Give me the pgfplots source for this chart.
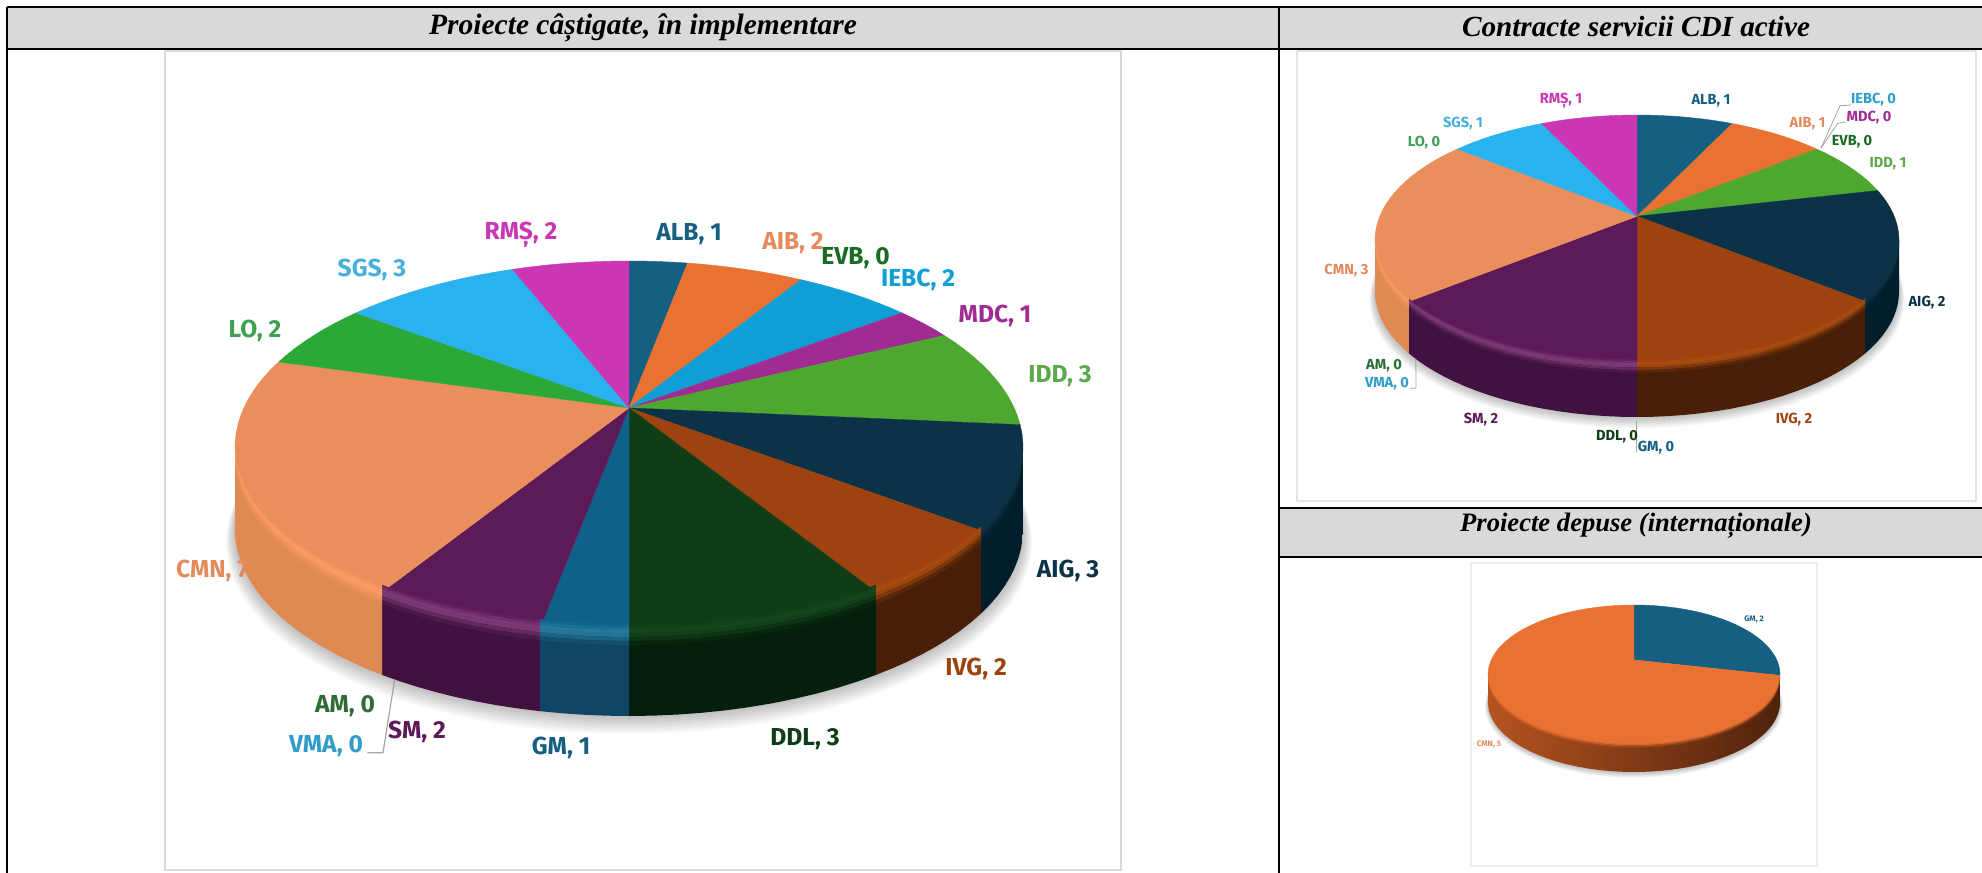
\documentclass[border=0pt]{standalone}
\usepackage{pgfplots}
\pgfplotsset{compat=1.18}
\usepackage{fontspec}
\setmainfont{Liberation Serif}
\newfontfamily\lab{Fira Sans}
\definecolor{cALB}{HTML}{156082}
\definecolor{cAIB}{HTML}{E97132}
\definecolor{cEVB}{HTML}{196B24}
\definecolor{cIEBC}{HTML}{0F9ED5}
\definecolor{cMDC}{HTML}{A02B93}
\definecolor{cIDD}{HTML}{4EA72E}
\definecolor{cAIG}{HTML}{0B3247}
\definecolor{cIVG}{HTML}{9E420F}
\definecolor{cDDL}{HTML}{0F3D16}
\definecolor{cGM}{HTML}{10618A}
\definecolor{cSM}{HTML}{5D1A59}
\definecolor{cAM}{HTML}{2E6B35}
\definecolor{cVMA}{HTML}{2E9EC8}
\definecolor{cCMN}{HTML}{EA8F5C}
\definecolor{cLO}{HTML}{2AA838}
\definecolor{cSGS}{HTML}{2AB2EE}
\definecolor{cRMS}{HTML}{CA36B4}
% walls and rim highlights
\definecolor{wAIG}{HTML}{021E2D}\definecolor{hAIG}{HTML}{0F3548}
\definecolor{wIVG}{HTML}{4A1F08}\definecolor{hIVG}{HTML}{AE4E12}
\definecolor{wDDL}{HTML}{041F0B}\definecolor{hDDL}{HTML}{15481C}
\definecolor{wGM}{HTML}{0F4663}\definecolor{hGM}{HTML}{2A7FA0}
\definecolor{wSM}{HTML}{41123F}\definecolor{hSM}{HTML}{84407F}
\definecolor{wCMN}{HTML}{DF8953}\definecolor{hCMN}{HTML}{FF9E62}
\definecolor{wCl}{HTML}{B5531F}\definecolor{wCr}{HTML}{4F220C}
\definecolor{lCMN}{HTML}{E58A5A}
\definecolor{lSGS}{HTML}{45B0DC}
\definecolor{lLO}{HTML}{3FA052}
\definecolor{lIDD}{HTML}{5CA84A}
\definecolor{gridg}{HTML}{D9D9D9}

\newcommand\setpie[7]{%
  \gdef\cx{#1}\gdef\cy{#2}\gdef\rx{#3}\gdef\ry{#4}\gdef\ee{#5}\gdef\dep{#6}\gdef\tot{#7}%
  \gdef\rxx{#3}\gdef\ryy{#4}%
  \pgfmathsetmacro\tmpa{#2-#4*#5}\xdef\apy{\tmpa}%
  \pgfmathsetmacro\tmpa{acos(-#5)}\xdef\thf{\tmpa}%
  \pgfmathsetmacro\tmpa{#6/83}\xdef\ssc{\tmpa}%
}
\newcommand\addarc[4]{%
  \pgfmathtruncatemacro\nn{max(1,ceil(abs(#2-#1)/3))}%
  \foreach \ii in {0,...,\nn}{%
    \pgfmathsetmacro\ang{#1+(#2-#1)/\nn*\ii}%
    \pgfmathsetmacro\dn{1+\ee*cos(\ang)}%
    \pgfmathsetmacro\vv{(cos(\ang)+\ee)/\dn}%
    \pgfmathsetmacro\px{\cx+\rxx*sqrt(1-\ee*\ee)*sin(\ang)/\dn}%
    \pgfmathsetmacro\py{\cy-\ryy*\vv+(#3)+(#4)*abs(\vv)}%
    \xdef\pts{\pts (\px,\py)}%
  }%
}
\newcommand\emitplot[1]{\edef\tmp{\noexpand\addplot[#1] coordinates {\pts};}\tmp}
\newcommand\drawpie[1]{%
  % soft shadow
  \foreach \oo in {18,16,14,12,10,8,6,4,2}{%
    \pgfmathsetmacro\tmpb{\rx+0.5*\oo*\ssc}\xdef\rxx{\tmpb}%
    \pgfmathsetmacro\tmpb{\ry+0.3*\oo*\ssc}\xdef\ryy{\tmpb}%
    \gdef\pts{}%
    \pgfmathsetmacro\tmpb{\dep+0.7*\oo*\ssc}%
    \addarc{0}{360}{\tmpb}{0}%
    \emitplot{draw=none,fill=black,fill opacity=0.026}%
  }%
  \xdef\rxx{\rx}\xdef\ryy{\ry}%
  % walls
  \gdef\cum{0}%
  \foreach \val/\fc/\wl/\wr/\hc in {#1}{%
    \pgfmathsetmacro\sa{\cum*360/\tot}%
    \pgfmathsetmacro\sb{(\cum+\val)*360/\tot}%
    \pgfmathsetmacro\tmpb{\cum+\val}\xdef\cum{\tmpb}%
    \pgfmathsetmacro\fa{max(\sa,\thf)}%
    \pgfmathsetmacro\fb{min(\sb,360-\thf)}%
    \pgfmathtruncatemacro\okk{(\fb-\fa)>0.01}%
    \ifnum\okk=1
      \gdef\pts{}\addarc{\fa}{\fb}{0}{0}\addarc{\fb}{\fa}{\dep}{0}%
      \emitplot{draw=none,shade,left color=\wl,right color=\wr}%
    \fi
  }%
  % faces
  \gdef\cum{0}%
  \foreach \val/\fc/\wl/\wr/\hc in {#1}{%
    \pgfmathsetmacro\sa{\cum*360/\tot}%
    \pgfmathsetmacro\sb{(\cum+\val)*360/\tot}%
    \pgfmathsetmacro\tmpb{\cum+\val}\xdef\cum{\tmpb}%
    \pgfmathtruncatemacro\okk{(\sb-\sa)>0.01}%
    \ifnum\okk=1
      \xdef\pts{(\cx,\apy)}\addarc{\sa}{\sb}{0}{0}%
      \emitplot{fill=\fc,draw=\fc,line width=.2pt}%
    \fi
  }%
  % rim bevel
  \gdef\cum{0}%
  \foreach \val/\fc/\wl/\wr/\hc in {#1}{%
    \pgfmathsetmacro\sa{\cum*360/\tot}%
    \pgfmathsetmacro\sb{(\cum+\val)*360/\tot}%
    \pgfmathsetmacro\tmpb{\cum+\val}\xdef\cum{\tmpb}%
    \pgfmathsetmacro\fa{max(\sa,\thf)}%
    \pgfmathsetmacro\fb{min(\sb,360-\thf)}%
    \pgfmathtruncatemacro\okk{(\fb-\fa)>0.01}%
    \ifnum\okk=1
      \foreach \dna/\dnb/\pc in {-9/-6/17,-6/-3/50,-3/0/83}{%
        \pgfmathsetmacro\dnp{\dna*\ssc}\pgfmathsetmacro\dnq{\dnb*\ssc}%
        \gdef\pts{}\addarc{\fa}{\fb}{0}{\dnp}\addarc{\fb}{\fa}{0}{\dnq}%
        \emitplot{draw=none,fill=\hc!\pc!\fc}%
      }%
      \foreach \dpa/\dpb/\pc in {0/4/83,4/8/50,8/12/17}{%
        \pgfmathsetmacro\dnp{\dpa*\ssc}\pgfmathsetmacro\dnq{\dpb*\ssc}%
        \gdef\pts{}\addarc{\fa}{\fb}{\dnp}{0}\addarc{\fb}{\fa}{\dnq}{0}%
        \emitplot{draw=none,shade,left color=\hc!\pc!\wl,right color=\hc!\pc!\wr}%
      }%
    \fi
  }%
}
\newcommand\lbl[5]{\node[font=\lab\bfseries\fontsize{#1}{#1}\selectfont,text=#2,inner sep=0pt,anchor=center] at (axis cs:#3,#4) {#5};}
\newcommand\ttl[4]{\node[font=\fontsize{#1}{15}\selectfont\bfseries\itshape,text=black,inner sep=0pt,anchor=center] at (axis cs:#2,#3) {#4};}

\begin{document}
\begin{tikzpicture}
\begin{axis}[
  scale only axis, width=991pt, height=436.5pt,
  xmin=0, xmax=1982, ymin=0, ymax=873, y dir=reverse,
  hide axis, clip=true, no markers]
% page
\addplot[fill=white,draw=none] coordinates {(0,0) (1982,0) (1982,873) (0,873)};
% header bands
\addplot[fill=gridg,draw=none] coordinates {(7,8) (1982,8) (1982,49) (7,49)};
\addplot[fill=gridg,draw=none] coordinates {(1279,508) (1982,508) (1982,557) (1279,557)};
% image frames
\addplot[draw=gridg,line width=1pt,fill=white] coordinates {(165,51) (1121,51) (1121,870) (165,870) (165,51)};
\addplot[draw=gridg!70!white,line width=.8pt,fill=white] coordinates {(1297,51) (1976,51) (1976,501) (1297,501) (1297,51)};
\addplot[draw=gridg!50!white,line width=.8pt,fill=white] coordinates {(1471,563) (1817,563) (1817,866) (1471,866) (1471,563)};
% table rules
\addplot[black,line width=1.2pt] coordinates {(7,7) (1982,7)};
\addplot[black,line width=1.2pt] coordinates {(7,49) (1982,49)};
\addplot[black,line width=1.2pt] coordinates {(7,7) (7,873)};
\addplot[black,line width=1.2pt] coordinates {(1279,7) (1279,873)};
\addplot[black,line width=1.2pt] coordinates {(1279,508) (1982,508)};
\addplot[black,line width=1.2pt] coordinates {(1279,557) (1982,557)};
% pie 1
\setpie{629}{447}{394}{186}{0.21}{83}{34}
\drawpie{1/cALB/cALB/cALB/cALB,2/cAIB/cAIB/cAIB/cAIB,0/cEVB/cEVB/cEVB/cEVB,2/cIEBC/cIEBC/cIEBC/cIEBC,1/cMDC/cMDC/cMDC/cMDC,3/cIDD/cIDD/cIDD/cIDD,3/cAIG/wAIG/wAIG/hAIG,2/cIVG/wIVG/wIVG/hIVG,3/cDDL/wDDL/wDDL/hDDL,1/cGM/wGM/wGM/hGM,2/cSM/wSM/wSM/hSM,0/cAM/cAM/cAM/cAM,0/cVMA/cVMA/cVMA/cVMA,7/cCMN/wCMN/wCMN/hCMN,2/cLO/cLO/cLO/cLO,3/cSGS/cSGS/cSGS/cSGS,2/cRMS/cRMS/cRMS/cRMS}
\addplot[gray!70,line width=.6pt] coordinates {(394.6,680) (383,752.7) (367.4,752.7)};
% pie 2
\setpie{1637}{240}{262}{125}{0.19}{52}{14}
\drawpie{1/cALB/cALB/cALB/cALB,1/cAIB/cAIB/cAIB/cAIB,0/cIEBC/cIEBC/cIEBC/cIEBC,0/cMDC/cMDC/cMDC/cMDC,0/cEVB/cEVB/cEVB/cEVB,1/cIDD/cIDD/cIDD/cIDD,2/cAIG/wAIG/wAIG/hAIG,2/cIVG/wIVG/wIVG/hIVG,0/cDDL/wDDL/wDDL/hDDL,0/cGM/wGM/wGM/hGM,2/cSM/wSM/wSM/hSM,0/cAM/cAM/cAM/cAM,0/cVMA/cVMA/cVMA/cVMA,3/cCMN/wCMN/wCMN/hCMN,0/cLO/cLO/cLO/cLO,1/cSGS/cSGS/cSGS/cSGS,1/cRMS/cRMS/cRMS/cRMS}
\addplot[gray!70,line width=.4pt] coordinates {(1820.9,148.3) (1840,105.7) (1851,105)};
\addplot[gray!70,line width=.4pt] coordinates {(1820.9,148.3) (1837.6,123.3) (1846,122)};
\addplot[gray!70,line width=.4pt] coordinates {(1415.8,358.3) (1416,388.3) (1410,388.3)};
\addplot[gray!70,line width=.4pt] coordinates {(1636.5,420.7) (1636.5,452.3)};
% pie 3
\setpie{1634}{674.5}{146}{69.5}{0.21}{28}{7}
\drawpie{2/cALB/cALB/cALB/cALB,5/cAIB/wCl/wCr/cAIB}
% titles
\ttl{14.75}{643}{28}{Proiecte câștigate, în implementare}
\ttl{14.6}{1636}{27}{Contracte servicii CDI active}
\ttl{13.3}{1636}{526}{Proiecte depuse (internaționale)}
% labels pie 1
\lbl{12.3}{cRMS}{521}{235}{RMȘ, 2}
\lbl{12.3}{cALB}{689}{234}{ALB, 1}
\lbl{12.3}{lCMN}{793}{243}{AIB, 2}
\lbl{12.3}{cEVB}{855.5}{258}{EVB, 0}
\lbl{12.3}{cIEBC}{918}{280}{IEBC, 2}
\lbl{12.3}{cMDC}{995}{316}{MDC, 1}
\lbl{12.3}{lIDD}{1060}{376}{IDD, 3}
\lbl{12.3}{cAIG}{1068}{571}{AIG, 3}
\lbl{12.3}{cIVG}{976}{669}{IVG, 2}
\lbl{12.3}{cDDL}{805}{739}{DDL, 3}
\lbl{12.3}{cALB}{561}{748}{GM, 1}
\lbl{12.3}{cSM}{417}{732}{SM, 2}
\lbl{12.3}{cVMA}{326}{746}{VMA, 0}
\lbl{12.3}{cAM}{345}{706}{AM, 0}
\lbl{12.3}{lCMN}{212.5}{571}{CMN, 7}
\lbl{12.3}{lLO}{255}{331}{LO, 2}
\lbl{12.3}{lSGS}{372}{270}{SGS, 3}
% labels pie 2
\lbl{7.3}{cRMS}{1561}{101}{RMȘ, 1}
\lbl{7.3}{cALB}{1711}{101}{ALB, 1}
\lbl{7.3}{cVMA}{1873.5}{100}{IEBC, 0}
\lbl{7.3}{cMDC}{1869}{118}{MDC, 0}
\lbl{7.3}{lCMN}{1807.5}{124}{AIB, 1}
\lbl{7.3}{cEVB}{1852}{142}{EVB, 0}
\lbl{7.3}{lIDD}{1888}{164}{IDD, 1}
\lbl{7.3}{lSGS}{1463}{124}{SGS, 1}
\lbl{7.3}{lLO}{1424}{143}{LO, 0}
\lbl{7.3}{lCMN}{1346.5}{271}{CMN, 3}
\lbl{7.3}{cAIG}{1927}{303}{AIG, 2}
\lbl{7.3}{cAM}{1384}{366}{AM, 0}
\lbl{7.3}{cVMA}{1387}{384}{VMA, 0}
\lbl{7.3}{cSM}{1481}{420}{SM, 2}
\lbl{7.3}{cIVG}{1794}{420}{IVG, 2}
\lbl{7.3}{cDDL}{1617}{437}{DDL, 0}
\lbl{7.3}{cALB}{1656}{448}{GM, 0}
% labels pie 3
\lbl{4}{cALB}{1754}{619}{GM, 2}
\lbl{4}{lCMN}{1489}{744}{CMN, 5}
\end{axis}
\end{tikzpicture}
\end{document}
